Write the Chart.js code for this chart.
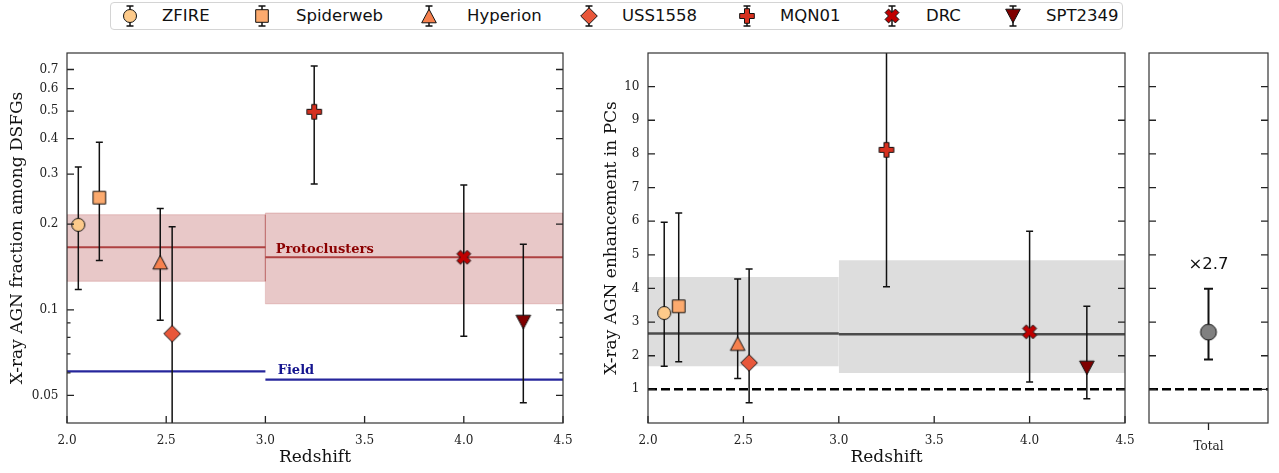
<!DOCTYPE html>
<html><head><meta charset="utf-8">
<script src="https://cdn.jsdelivr.net/npm/chart.js@4.4.1/dist/chart.umd.min.js"></script>
<style>
html,body{margin:0;padding:0;background:#fff;}
body{width:1279px;height:473px;position:relative;overflow:hidden;}
canvas{position:absolute;}
#legend{position:absolute;left:110px;top:2px;width:1011px;height:26px;border:1px solid #d4d4d4;border-radius:4px;}
.li{position:absolute;top:0;height:26px;line-height:26px;font-family:'DejaVu Sans';font-size:16.5px;color:#111;white-space:nowrap;}
.lm{position:absolute;top:0;}
</style></head><body>
<div id="legend"></div>
<canvas id="cL" width="585" height="433" style="left:0;top:40px"></canvas>
<canvas id="cM" width="545" height="433" style="left:590px;top:40px"></canvas>
<canvas id="cR" width="143" height="433" style="left:1136px;top:40px"></canvas>
<script>
// ---------------- DATA ----------------
const sources = ['ZFIRE','Spiderweb','Hyperion','USS1558','MQN01','DRC','SPT2349'];
const markers = ['o','s','^','D','P','X','v'];
const colors  = ['#fdca8a','#fcaa6e','#f6814e','#e8573a','#d6301f','#c00000','#7f0000'];

// left panel: X-ray AGN fraction among DSFGs
const zFrac   = [2.057, 2.163, 2.47, 2.53, 3.246, 4.0, 4.30];
const frac    = [0.199, 0.248, 0.147, 0.0824, 0.497, 0.153, 0.0906];
const fracLo  = [0.118, 0.149, 0.092, 0.030, 0.277, 0.0807, 0.0471];
const fracHi  = [0.318, 0.388, 0.227, 0.196, 0.72, 0.275, 0.170];

// middle panel: enhancement in PCs
const zEnh    = [2.085, 2.161, 2.47, 2.53, 3.25, 4.0, 4.30];
const enh     = [3.27, 3.47, 2.36, 1.79, 8.12, 2.71, 1.64];
const enhLo   = [1.69, 1.82, 1.32, 0.60, 4.05, 1.22, 0.72];
const enhHi   = [5.97, 6.24, 4.28, 4.58, 12.5, 5.70, 3.47];

// redshift bins
const binEdges   = [2.0, 3.0, 4.5];
const pcFrac     = [0.166, 0.153];
const pcFracLo   = [0.126, 0.105];
const pcFracHi   = [0.216, 0.219];
const fieldFrac  = [0.0608, 0.0568];
const enhBin     = [2.66, 2.64];
const enhBinLo   = [1.69, 1.49];
const enhBinHi   = [4.34, 4.84];

// total
const totalLabel = ['Total'];
const totalEnh   = [2.7];
const totalLo    = [1.89];
const totalHi    = [3.99];

// ticks
const zTicks        = [2.0, 2.5, 3.0, 3.5, 4.0, 4.5];
const fracTicks     = [0.05, 0.1, 0.2, 0.3, 0.4, 0.5, 0.6, 0.7];
const fracMinor     = [0.06, 0.07, 0.08, 0.09];
const enhTicks      = [1, 2, 3, 4, 5, 6, 7, 8, 9, 10];

// ---------------- MARKERS ----------------
function markerPath(ctx, m) {
  ctx.beginPath();
  if (m === 'o') ctx.arc(0, 0, 6.5, 0, Math.PI * 2);
  else if (m === 's') ctx.rect(-6.3, -6.3, 12.6, 12.6);
  else if (m === '^') { ctx.moveTo(0, -6.8); ctx.lineTo(7.3, 6.8); ctx.lineTo(-7.3, 6.8); ctx.closePath(); }
  else if (m === 'v') { ctx.moveTo(0, 6.8); ctx.lineTo(7.3, -6.8); ctx.lineTo(-7.3, -6.8); ctx.closePath(); }
  else if (m === 'D') { ctx.moveTo(0, -8.3); ctx.lineTo(8.3, 0); ctx.lineTo(0, 8.3); ctx.lineTo(-8.3, 0); ctx.closePath(); }
  else {
    const L = 7.3, w = 2.5;
    const pts = [[-w,-L],[w,-L],[w,-w],[L,-w],[L,w],[w,w],[w,L],[-w,L],[-w,w],[-L,w],[-L,-w],[-w,-w]];
    const a = m === 'X' ? Math.PI / 4 : 0;
    pts.forEach((p, i) => {
      const x = p[0] * Math.cos(a) - p[1] * Math.sin(a), y = p[0] * Math.sin(a) + p[1] * Math.cos(a);
      i ? ctx.lineTo(x, y) : ctx.moveTo(x, y);
    });
    ctx.closePath();
  }
}
function markerCanvas(m, color, withErr, scale) {
  scale = scale || 1;
  const c = document.createElement('canvas');
  c.width = 24; c.height = withErr ? 26 : 24;
  const ctx = c.getContext('2d');
  ctx.translate(12, c.height / 2);
  if (withErr) {
    ctx.strokeStyle = '#111'; ctx.lineWidth = 1.5; ctx.beginPath();
    ctx.moveTo(0, -10); ctx.lineTo(0, 10);
    ctx.moveTo(-3.5, -10); ctx.lineTo(3.5, -10);
    ctx.moveTo(-3.5, 10); ctx.lineTo(3.5, 10);
    ctx.stroke();
  }
  ctx.scale(scale, scale);
  markerPath(ctx, m);
  ctx.fillStyle = color; ctx.fill();
  ctx.strokeStyle = '#111'; ctx.lineWidth = 1 / scale; ctx.stroke();
  return c;
}
const pointImgs = sources.map((s, i) => markerCanvas(markers[i], colors[i], false, 1));

// ---------------- LEGEND ----------------
const legendMarkX = [130, 262, 429, 589, 747, 892, 1013];
const legendTextX = [162, 296, 467, 622, 780, 926, 1046];
const leg = document.getElementById('legend');
sources.forEach((s, i) => {
  const c = markerCanvas(markers[i], colors[i], true, 1);
  c.className = 'lm';
  c.style.left = (legendMarkX[i] - 12 - 111) + 'px';
  leg.appendChild(c);
  const t = document.createElement('div');
  t.className = 'li'; t.textContent = s;
  t.style.left = (legendTextX[i] - 111) + 'px';
  leg.appendChild(t);
});

// ---------------- PLUGINS ----------------
const errorBars = {
  id: 'errorBars',
  beforeDatasetDraw(chart, args) {
    const ds = chart.data.datasets[args.index];
    if (!ds.errLo) return;
    const xs = chart.scales.x, ys = chart.scales.y, a = chart.chartArea, ctx = chart.ctx;
    ctx.save();
    ctx.beginPath(); ctx.rect(a.left, a.top, a.right - a.left, a.bottom - a.top); ctx.clip();
    ctx.strokeStyle = '#111'; ctx.lineWidth = ds.errWidth || 1.5;
    const cap = ds.capHalf || 3.5;
    ds.data.forEach((p, i) => {
      const x = xs.getPixelForValue(p.x);
      const y1 = ys.getPixelForValue(ds.errLo[i]), y2 = ys.getPixelForValue(ds.errHi[i]);
      ctx.beginPath();
      ctx.moveTo(x, y1); ctx.lineTo(x, y2);
      ctx.moveTo(x - cap, y1); ctx.lineTo(x + cap, y1);
      ctx.moveTo(x - cap, y2); ctx.lineTo(x + cap, y2);
      ctx.stroke();
    });
    ctx.restore();
  }
};
const texts = {
  id: 'texts',
  afterDatasetsDraw(chart, args, opts) {
    const items = opts.items || [];
    const ctx = chart.ctx, xs = chart.scales.x, ys = chart.scales.y;
    items.forEach(t => {
      ctx.save();
      ctx.font = t.font; ctx.fillStyle = t.color;
      ctx.textAlign = t.align || 'left'; ctx.textBaseline = t.baseline || 'alphabetic';
      ctx.fillText(t.text, xs.getPixelForValue(t.x), ys.getPixelForValue(t.y));
      ctx.restore();
    });
  }
};
const frameTicks = {
  id: 'frameTicks',
  afterDraw(chart, args, opts) {
    const ctx = chart.ctx, a = chart.chartArea, xs = chart.scales.x, ys = chart.scales.y;
    const minor = opts.minor || [];
    ctx.save();
    ctx.strokeStyle = '#222'; ctx.lineWidth = 1.3;
    ctx.beginPath();
    xs.ticks.forEach(t => {
      const px = xs.getPixelForValue(t.value);
      if (opts.xOut) { ctx.moveTo(px, a.bottom); ctx.lineTo(px, a.bottom + 7); }
      else { ctx.moveTo(px, a.bottom); ctx.lineTo(px, a.bottom - 7); }
    });
    ys.ticks.forEach(t => {
      if (t.value <= ys.min || t.value >= ys.max) return;
      const py = ys.getPixelForValue(t.value);
      const len = minor.includes(t.value) ? 3.5 : 7;
      ctx.moveTo(a.left, py); ctx.lineTo(a.left + len, py);
      ctx.moveTo(a.right, py); ctx.lineTo(a.right - len, py);
    });
    ctx.stroke();
    ctx.strokeStyle = '#333'; ctx.lineWidth = 1.2;
    ctx.strokeRect(a.left, a.top, a.right - a.left, a.bottom - a.top);
    ctx.restore();
  }
};
Chart.register(errorBars, texts, frameTicks);
Chart.defaults.font.family = 'DejaVu Serif';
Chart.defaults.color = '#222';

// ---------------- HELPERS ----------------
function seg(x0, x1, y) { return [{x: x0, y: y}, {x: x1, y: y}]; }
function lineDs(data, color, width, order, dash) {
  return {type: 'scatter', data, showLine: true, borderColor: color, borderWidth: width,
          borderDash: dash || [], pointRadius: 0, fill: false, order, tension: 0};
}
function bandDs(x0, x1, lo, hi, color, order) {
  return {type: 'scatter', data: seg(x0, x1, hi), showLine: true, borderWidth: 0,
          borderColor: 'rgba(0,0,0,0)', backgroundColor: color, fill: {value: lo}, pointRadius: 0, order};
}
function outlineDs(x0, x1, lo, hi, color, order) {
  return lineDs([{x: x0, y: lo}, {x: x0, y: hi}, {x: x1, y: hi}, {x: x1, y: lo}, {x: x0, y: lo}], color, 1, order);
}
function pointSets(zArr, yArr, loArr, hiArr) {
  return sources.map((s, i) => ({
    type: 'scatter', label: s, data: [{x: zArr[i], y: yArr[i]}],
    errLo: [loArr[i]], errHi: [hiArr[i]],
    pointStyle: pointImgs[i], pointRadius: 7, order: 0
  }));
}
function fixX(s) { s.height = 50; s.paddingLeft = 0; s.paddingRight = 0; }
function xAxis(extra) {
  return Object.assign({
    type: 'linear', min: 2, max: 4.5,
    afterBuildTicks: s => { s.ticks = zTicks.map(v => ({value: v})); },
    afterFit: fixX,
    grid: {display: false, drawTicks: false}, border: {display: false},
    ticks: {padding: 10.5, font: {size: 12}, autoSkip: false, maxRotation: 0, color: '#222', callback: v => v.toFixed(1)},
    title: {display: true, text: 'Redshift', font: {size: 17}, color: '#111', padding: {top: 0, bottom: 5}}
  }, extra || {});
}
const common = {
  responsive: false, animation: false, events: [],
  plugins: {legend: {display: false}, tooltip: {enabled: false}}
};

// ---------------- LEFT CHART ----------------
const leftSets = pointSets(zFrac, frac, fracLo, fracHi);
for (let b = 0; b < 2; b++) {
  leftSets.push(bandDs(binEdges[b], binEdges[b + 1], pcFracLo[b], pcFracHi[b], 'rgba(165,42,42,0.26)', 6));
  leftSets.push(outlineDs(binEdges[b], binEdges[b + 1], pcFracLo[b], pcFracHi[b], 'rgba(165,42,42,0.22)', 5));
  leftSets.push(lineDs(seg(binEdges[b], binEdges[b + 1], pcFrac[b]), 'rgba(165,42,42,0.85)', 2, 4));
  leftSets.push(lineDs(seg(binEdges[b], binEdges[b + 1], fieldFrac[b]), 'rgba(0,0,139,0.85)', 2.2, 4));
}
new Chart(document.getElementById('cL'), {
  type: 'scatter',
  data: {datasets: leftSets},
  options: Object.assign({}, common, {
    layout: {padding: {left: 0, right: 22, top: 13, bottom: 0}},
    plugins: Object.assign({}, common.plugins, {
      frameTicks: {minor: fracMinor},
      texts: {items: [
        {text: 'Protoclusters', x: 3.052, y: 0.1585, font: 'bold 13px "DejaVu Serif"', color: '#8b0000'},
        {text: 'Field', x: 3.062, y: 0.0593, font: 'bold 13px "DejaVu Serif"', color: '#14148f'}
      ]}
    }),
    scales: {
      x: xAxis(),
      y: {
        type: 'logarithmic', min: 0.04, max: 0.8,
        afterBuildTicks: s => { s.ticks = fracTicks.concat(fracMinor).sort((a, b) => a - b).map(v => ({value: v})); },
        afterFit: s => { s.width = 67; s.paddingTop = 0; s.paddingBottom = 0; },
        grid: {display: false, drawTicks: false}, border: {display: false},
        ticks: {padding: 8.5, font: {size: 12}, autoSkip: false, color: '#222',
                callback: v => fracTicks.includes(v) ? String(v) : ''},
        title: {display: true, text: 'X-ray AGN fraction among DSFGs', font: {size: 17}, color: '#111', padding: {top: 7, bottom: 0}}
      }
    }
  })
});

// ---------------- MIDDLE CHART ----------------
const midSets = pointSets(zEnh, enh, enhLo, enhHi);
midSets.push(lineDs(seg(2, 4.5, 1), '#000', 2.5, 3, [9, 4]));
for (let b = 0; b < 2; b++) {
  midSets.push(bandDs(binEdges[b], binEdges[b + 1], enhBinLo[b], enhBinHi[b], 'rgba(128,128,128,0.27)', 6));
  midSets.push(lineDs(seg(binEdges[b], binEdges[b + 1], enhBin[b]), 'rgba(60,60,60,0.9)', 2.5, 4));
}
new Chart(document.getElementById('cM'), {
  type: 'scatter',
  data: {datasets: midSets},
  options: Object.assign({}, common, {
    layout: {padding: {left: 0, right: 10, top: 13, bottom: 0}},
    plugins: Object.assign({}, common.plugins, {frameTicks: {}}),
    scales: {
      x: xAxis(),
      y: {
        type: 'linear', min: 0, max: 11,
        afterBuildTicks: s => { s.ticks = enhTicks.map(v => ({value: v})); },
        afterFit: s => { s.width = 58; s.paddingTop = 0; s.paddingBottom = 0; },
        grid: {display: false, drawTicks: false}, border: {display: false},
        ticks: {padding: 8.5, font: {size: 12}, autoSkip: false, color: '#222', callback: v => String(v)},
        title: {display: true, text: 'X-ray AGN enhancement in PCs', font: {size: 17}, color: '#111', padding: {top: 11, bottom: 0}}
      }
    }
  })
});

// ---------------- RIGHT CHART ----------------
const totalImg = markerCanvas('o', '#808080', false, 1.22);
new Chart(document.getElementById('cR'), {
  type: 'scatter',
  data: {datasets: [
    {type: 'scatter', label: totalLabel[0], data: [{x: 0, y: totalEnh[0]}], errLo: totalLo, errHi: totalHi,
     errWidth: 2, capHalf: 4.5, pointStyle: totalImg, pointRadius: 8, order: 0},
    lineDs(seg(-1, 1, 1), '#000', 2.5, 3, [9, 4])
  ]},
  options: Object.assign({}, common, {
    layout: {padding: {left: 0, right: 11, top: 13, bottom: 0}},
    plugins: Object.assign({}, common.plugins, {
      frameTicks: {xOut: true},
      texts: {items: [{text: '\u00d7' + totalEnh[0].toFixed(1), x: 0, y: 4.7, font: '16.5px "DejaVu Sans"', color: '#111', align: 'center', baseline: 'middle'}]}
    }),
    scales: {
      x: {
        type: 'linear', min: -1, max: 1,
        afterBuildTicks: s => { s.ticks = [{value: 0}]; },
        afterFit: fixX,
        grid: {display: false, drawTicks: false}, border: {display: false},
        ticks: {padding: 17, font: {size: 12}, autoSkip: false, maxRotation: 0, color: '#222', callback: () => totalLabel[0]}
      },
      y: {
        type: 'linear', min: 0, max: 11,
        afterBuildTicks: s => { s.ticks = enhTicks.map(v => ({value: v})); },
        afterFit: s => { s.width = 13; s.paddingTop = 0; s.paddingBottom = 0; },
        grid: {display: false, drawTicks: false}, border: {display: false},
        ticks: {display: true, padding: 0, font: {size: 1}, callback: () => ''}
      }
    }
  })
});
</script>
</body></html>
